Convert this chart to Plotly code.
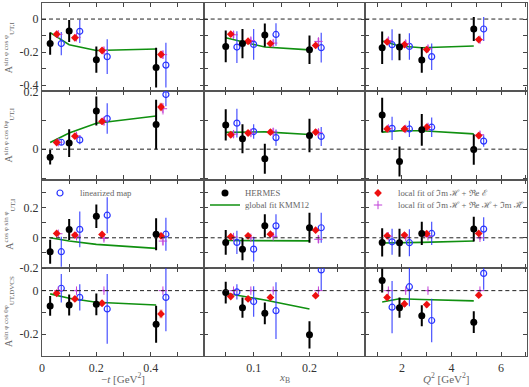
import plotly.graph_objects as go
from plotly.subplots import make_subplots

# ---------------- data ----------------
# bin positions (columns: -t, xB, Q^2)
t_black = [0.03, 0.10, 0.20, 0.42]
t_red = [0.054, 0.121, 0.221, 0.438]
t_mag = [0.060, 0.127, 0.228, 0.445]
t_blue = [0.071, 0.139, 0.240, 0.456]

xb_black = [0.05, 0.08, 0.12, 0.20]
xb_red = [0.059, 0.090, 0.130, 0.211]
xb_mag = [0.064, 0.095, 0.135, 0.216]
xb_blue = [0.070, 0.100, 0.140, 0.221]

q2_black = [1.2, 1.9, 2.8, 4.9]
q2_red = [1.4, 2.1, 3.0, 5.1]
q2_mag = [1.45, 2.15, 3.05, 5.15]
q2_blue = [1.6, 2.3, 3.2, 5.3]

# each list: [ -t column, xB column, Q2 column ]
# row 1: A_UT,I^{sin phi cos phi}
hermes_r1 = [[-0.148, -0.072, -0.245, -0.293], [-0.165, -0.148, -0.097, -0.186], [-0.173, -0.169, -0.247, -0.060]]
hermes_r1_err = [[0.067, 0.067, 0.080, 0.120], [0.096, 0.088, 0.070, 0.086], [0.098, 0.080, 0.078, 0.072]]
red_r1 = [[-0.091, -0.113, -0.190, -0.214], [-0.091, -0.134, -0.148, -0.159], [-0.138, -0.155, -0.184, -0.124]]
red_r1_err = [[0.010, 0.010, 0.012, 0.020], [0.012, 0.012, 0.012, 0.015], [0.015, 0.015, 0.015, 0.015]]
mag_r1 = [[-0.092, -0.110, -0.190, -0.215], [-0.095, -0.130, -0.145, -0.135], [-0.130, -0.148, -0.178, -0.125]]
mag_r1_err = [[0.015, 0.015, 0.020, 0.025], [0.020, 0.020, 0.020, 0.020], [0.020, 0.020, 0.020, 0.020]]
blue_r1 = [[-0.148, -0.074, -0.227, -0.278], [-0.169, -0.153, -0.093, -0.173], [-0.155, -0.165, -0.227, -0.060]]
blue_r1_err = [[0.070, 0.070, 0.105, 0.135], [0.096, 0.093, 0.068, 0.090], [0.094, 0.080, 0.080, 0.072]]
green_r1 = [[-0.082, -0.155, -0.190, -0.181], [-0.113, -0.138, -0.169, -0.186], [-0.132, -0.163, -0.173, -0.163]]

# row 2: A_UT,I^{sin phi cos 0phi}
hermes_r2 = [[-0.028, 0.021, 0.132, 0.085], [0.084, 0.036, -0.033, 0.047], [0.118, -0.043, 0.067, -0.001]]
hermes_r2_err = [[0.025, 0.048, 0.050, 0.086], [0.054, 0.050, 0.052, 0.058], [0.060, 0.052, 0.055, 0.053]]
red_r2 = [[0.023, 0.045, 0.096, 0.146], [0.050, 0.056, 0.059, 0.059], [0.070, 0.070, 0.076, 0.047]]
red_r2_err = [[0.008, 0.008, 0.010, 0.015], [0.010, 0.010, 0.010, 0.010], [0.010, 0.010, 0.010, 0.010]]
mag_r2 = [[0.024, 0.046, 0.097, 0.140], [0.052, 0.056, 0.060, 0.058], [0.072, 0.070, 0.077, 0.050]]
mag_r2_err = [[0.010, 0.010, 0.015, 0.020], [0.012, 0.012, 0.012, 0.012], [0.012, 0.012, 0.012, 0.012]]
blue_r2 = [[0.024, 0.032, 0.106, 0.189], [0.090, 0.061, 0.040, 0.044], [0.072, 0.070, 0.076, 0.028]]
blue_r2_err = [[0.010, 0.015, 0.053, 0.040], [0.050, 0.025, 0.028, 0.033], [0.040, 0.028, 0.034, 0.020]]
green_r2 = [[0.023, 0.056, 0.090, 0.115], [0.058, 0.058, 0.060, 0.051], [0.059, 0.064, 0.064, 0.053]]

# row 3: A_UT,I^{cos phi sin phi}
hermes_r3 = [[-0.093, 0.056, 0.144, 0.024], [-0.031, -0.076, 0.080, 0.067], [-0.031, -0.033, 0.029, 0.058]]
hermes_r3_err = [[0.080, 0.070, 0.078, 0.107], [0.083, 0.075, 0.078, 0.100], [0.094, 0.094, 0.078, 0.083]]
red_r3 = [[0.029, 0.018, 0.022, 0.013], [0.007, 0.013, 0.024, 0.051], [0.013, 0.018, 0.027, 0.029]]
red_r3_err = [[0.010, 0.010, 0.010, 0.010], [0.010, 0.010, 0.010, 0.010], [0.010, 0.010, 0.010, 0.010]]
mag_r3 = [[0.027, 0.010, -0.004, -0.022], [0.005, 0.000, 0.010, -0.010], [0.010, 0.005, 0.010, 0.000]]
mag_r3_err = [[0.015, 0.015, 0.020, 0.030], [0.010, 0.010, 0.015, 0.025], [0.015, 0.015, 0.015, 0.015]]
blue_r3 = [[-0.093, 0.056, 0.151, 0.024], [-0.031, -0.076, 0.080, 0.067], [-0.027, -0.033, 0.029, 0.058]]
blue_r3_err = [[0.100, 0.120, 0.120, 0.110], [0.078, 0.083, 0.078, 0.100], [0.087, 0.090, 0.078, 0.080]]
green_r3 = [[0.000, -0.022, -0.044, -0.071], [-0.018, -0.019, -0.020, -0.021], [-0.035, -0.034, -0.031, -0.022]]

# row 4: A_UT,DVCS^{sin phi cos 0phi}
hermes_r4 = [[-0.070, -0.066, -0.063, -0.154], [-0.009, -0.078, -0.104, -0.203], [0.046, -0.078, -0.115, -0.145]]
hermes_r4_err = [[0.045, 0.048, 0.050, 0.085], [0.050, 0.046, 0.050, 0.063], [0.055, 0.046, 0.048, 0.050]]
red_r4 = [[-0.012, -0.038, -0.058, -0.107], [-0.027, -0.038, -0.031, -0.023], [-0.031, -0.061, -0.064, -0.021]]
red_r4_err = [[0.010, 0.012, 0.012, 0.020], [0.010, 0.010, 0.010, 0.010], [0.013, 0.014, 0.013, 0.010]]
mag_r4 = [[0.000, 0.000, 0.000, 0.000], [0.000, 0.000, 0.000, 0.000], [0.000, 0.000, 0.000, 0.000]]
mag_r4_err = [[0.005, 0.005, 0.005, 0.005], [0.005, 0.005, 0.005, 0.005], [0.005, 0.005, 0.005, 0.005]]
blue_r4 = [[0.011, -0.031, -0.084, -0.031], [-0.006, -0.050, -0.092, 0.095], [-0.076, 0.018, -0.137, 0.079]]
blue_r4_err = [[0.065, 0.060, 0.160, 0.155], [0.035, 0.070, 0.130, 0.095], [0.120, 0.090, 0.100, 0.075]]
green_r4 = [[-0.015, -0.035, -0.053, -0.066], [-0.012, -0.024, -0.043, -0.084], [-0.052, -0.037, -0.041, -0.047]]

row_titles = [
    "A<sup>sin φ cos φ</sup><sub>UT,I</sub>",
    "A<sup>sin φ cos 0φ</sup><sub>UT,I</sub>",
    "A<sup>cos φ sin φ</sup><sub>UT,I</sub>",
    "A<sup>sin φ cos 0φ</sup><sub>UT,DVCS</sub>",
]
x_titles = ["−<i>t</i> [GeV<sup>2</sup>]", "<i>x</i><sub>B</sub>", "<i>Q</i><sup>2</sup> [GeV<sup>2</sup>]"]

x_tickvals = [[0, 0.2, 0.4], [0.1, 0.2], [2, 4, 6]]
x_ticktext = [["0", "0.2", "0.4"], ["0.1", "0.2"], ["2", "4", "6"]]
x_ranges = [[0, 0.595], [0.0105, 0.3], [0.52, 7.05]]
x_minor = [0.1, 0.05, 1.0]

y_tickvals = [[-0.4, -0.2, 0], [0, 0.2], [-0.2, 0, 0.2], [-0.2, 0]]
y_ticktext = [["-0.4", "-0.2", "0"], ["0", "0.2"], ["-0.2", "0", "0.2"], ["-0.2", "0"]]
y_ranges = [[-0.436, 0.097], [-0.105, 0.2005], [-0.2005, 0.39], [-0.30, 0.105]]

labels = {
    "blue": "linearized map",
    "black": "HERMES",
    "green": "global fit KMM12",
    "red": "local fit of ℑm ℋ + ℜe ℰ",
    "mag": "local fit of ℑm ℋ + ℜe ℋ + ℑm ℋ\u0303",
}

# ---------------- figure ----------------
rows = [
    (hermes_r1, hermes_r1_err, red_r1, red_r1_err, mag_r1, mag_r1_err, blue_r1, blue_r1_err, green_r1),
    (hermes_r2, hermes_r2_err, red_r2, red_r2_err, mag_r2, mag_r2_err, blue_r2, blue_r2_err, green_r2),
    (hermes_r3, hermes_r3_err, red_r3, red_r3_err, mag_r3, mag_r3_err, blue_r3, blue_r3_err, green_r3),
    (hermes_r4, hermes_r4_err, red_r4, red_r4_err, mag_r4, mag_r4_err, blue_r4, blue_r4_err, green_r4),
]
xpos = [
    (t_black, t_red, t_mag, t_blue),
    (xb_black, xb_red, xb_mag, xb_blue),
    (q2_black, q2_red, q2_mag, q2_blue),
]

W, H = 529, 387
ML, MR, MT, MB = 42, 2, 3, 31
PW, PH = W - ML - MR, H - MT - MB

fig = make_subplots(rows=4, cols=3, horizontal_spacing=0, vertical_spacing=0)

FONT = "Liberation Serif"

for r, (hb, hbe, rd, rde, mg, mge, bl, ble, gr) in enumerate(rows):
    for c, (xbk, xrd, xmg, xbl) in enumerate(xpos):
        first = (r == 2)
        fig.add_trace(go.Scatter(
            x=xbk, y=gr[c], mode="lines", line=dict(color="#109010", width=1.6),
            name=labels["green"], showlegend=(first and c == 1), legend="legend3"),
            row=r + 1, col=c + 1)
        fig.add_trace(go.Scatter(
            x=xbl, y=bl[c], mode="markers",
            marker=dict(symbol="circle-open", size=6, color="#2a35ff", line=dict(width=1.2)),
            error_y=dict(type="data", array=ble[c], color="rgba(40,50,255,0.85)", thickness=1.2, width=0),
            name=labels["blue"], showlegend=(first and c == 0), legend="legend"),
            row=r + 1, col=c + 1)
        fig.add_trace(go.Scatter(
            x=xmg, y=mg[c], mode="markers",
            marker=dict(symbol="cross-thin", size=6, color="#c040d8", line=dict(width=1, color="#c040d8")),
            error_y=dict(type="data", array=mge[c], color="rgba(200,70,215,0.5)", thickness=2, width=0),
            name=labels["mag"], showlegend=(first and c == 2), legend="legend5"),
            row=r + 1, col=c + 1)
        fig.add_trace(go.Scatter(
            x=xrd, y=rd[c], mode="markers",
            marker=dict(symbol="diamond", size=6, color="#ee1010"),
            error_y=dict(type="data", array=rde[c], color="rgba(240,40,40,0.45)", thickness=3, width=0),
            name=labels["red"], showlegend=(first and c == 2), legend="legend4"),
            row=r + 1, col=c + 1)
        fig.add_trace(go.Scatter(
            x=xbk, y=hb[c], mode="markers",
            marker=dict(symbol="circle", size=7, color="black"),
            error_y=dict(type="data", array=hbe[c], color="black", thickness=2, width=0),
            name=labels["black"], showlegend=(first and c == 1), legend="legend2"),
            row=r + 1, col=c + 1)
        fig.add_hline(y=0, line=dict(color="#222", width=1, dash="4px,3px"), row=r + 1, col=c + 1)

axis_common = dict(showgrid=False, zeroline=False, ticks="inside", ticklen=4, tickwidth=1,
                   tickcolor="#444", linecolor="#555", linewidth=1.2, mirror="allticks",
                   showline=True, automargin=False,
                   tickfont=dict(family=FONT, size=12, color="#333"))

for r in range(4):
    for c in range(3):
        fig.update_xaxes(axis_common, range=x_ranges[c], tickmode="array",
                         tickvals=x_tickvals[c], ticktext=x_ticktext[c],
                         showticklabels=(r == 3),
                         minor=dict(ticks="inside", ticklen=4, tickcolor="#444",
                                    tickmode="linear", tick0=0, dtick=x_minor[c]),
                         row=r + 1, col=c + 1)
        fig.update_yaxes(axis_common, range=y_ranges[r], tickmode="array",
                         tickvals=y_tickvals[r], ticktext=y_ticktext[r],
                         showticklabels=(c == 0),
                         minor=dict(ticks="inside", ticklen=4, tickcolor="#444",
                                    tickmode="linear", tick0=0, dtick=0.1),
                         row=r + 1, col=c + 1)

# y titles
for r in range(4):
    fig.add_annotation(text=row_titles[r], xref="paper", yref="paper",
                       x=(9 - ML) / PW, y=1 - (r + 0.5) / 4, textangle=-90,
                       showarrow=False, font=dict(family=FONT, size=10, color="#666"),
                       xanchor="center", yanchor="middle")
# x titles
for c in range(3):
    fig.add_annotation(text=x_titles[c], xref="paper", yref="paper",
                       x=(c + 0.5) / 3, y=(H - MB - 378) / PH,
                       showarrow=False, font=dict(family=FONT, size=11, color="#666"),
                       xanchor="center", yanchor="middle")

def px_x(px):
    return (px - ML) / PW

def px_y(py):
    return (H - MB - py) / PH

leg = dict(xanchor="left", yanchor="middle", bgcolor="rgba(0,0,0,0)",
           font=dict(family=FONT, size=8.7, color="#666"), itemwidth=30, borderwidth=0)

fig.update_layout(
    template="none",
    width=W, height=H, margin=dict(l=ML, r=MR, t=MT, b=MB, autoexpand=False),
    plot_bgcolor="white", paper_bgcolor="white",
    legend=dict(leg, x=px_x(40), y=px_y(193)),
    legend2=dict(leg, x=px_x(205), y=px_y(193)),
    legend3=dict(leg, x=px_x(205), y=px_y(205)),
    legend4=dict(leg, x=px_x(358), y=px_y(193)),
    legend5=dict(leg, x=px_x(358), y=px_y(205)),
)

fig.write_html("out.html", config={"displayModeBar": False},
               post_script="document.body.style.margin='0';")
